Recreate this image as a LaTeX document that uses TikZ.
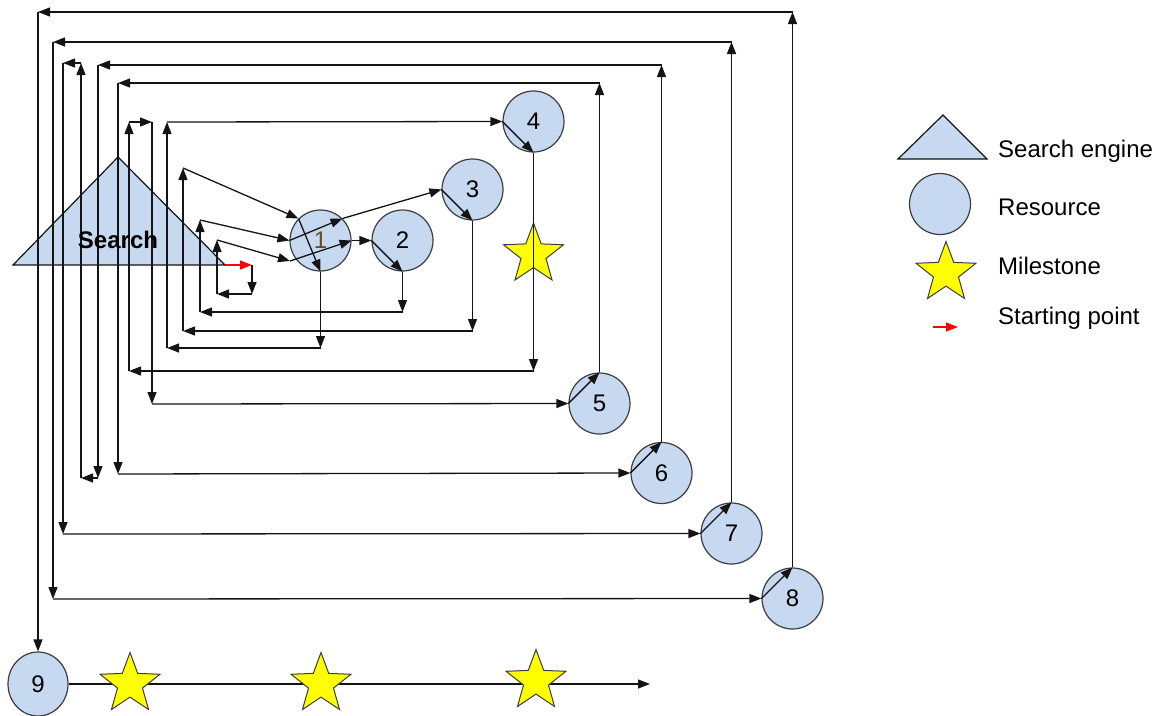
\documentclass[tikz,border=0pt]{standalone}
\usepackage{fontspec}
\setmainfont{Liberation Sans}
\usetikzlibrary{arrows.meta,shapes.geometric}
\definecolor{resblue}{RGB}{198,217,240}
\definecolor{starfill}{RGB}{255,255,0}
\definecolor{edgecol}{RGB}{20,20,20}
\definecolor{rimcol}{RGB}{60,60,60}
\definecolor{onecol}{RGB}{110,75,25}
\tikzset{
  edge/.style={draw=edgecol, line width=1.3pt, -{Triangle[length=12pt,width=9pt]}},
  startedge/.style={edge, draw=red},
  res/.style={circle, draw=rimcol, fill=resblue, line width=1.2pt, minimum size=61pt,
    inner sep=0pt, font=\fontsize{24}{28}\selectfont},
  mstone/.style={star, star points=5, star point ratio=2.4, draw=rimcol, fill=starfill,
    line width=1pt, minimum size=63pt, inner sep=0pt},
  legtext/.style={anchor=base west, inner sep=0pt, font=\fontsize{24}{28}\selectfont},
}
\begin{document}
\begin{tikzpicture}[x=1pt,y=-1pt]
\useasboundingbox (0,0) rectangle (1161,715);

% search engine
\coordinate (seL) at (13,265);
\coordinate (seTop) at (118,157);
\coordinate (seR) at (225,265);
\draw[draw=edgecol, fill=resblue, line width=1.2pt] (seL) -- (seTop) -- (seR) -- cycle;

% resources
\node[res] (c1) at (320.5,240.5) {\color{onecol}1};
\node[res] (c2) at (402.5,240.5) {2};
\node[res] (c3) at (472.5,189.5) {3};
\node[res] (c4) at (533.5,121.5) {4};
\node[res] (c5) at (599.5,403.5) {5};
\node[res] (c6) at (661.5,473)   {6};
\node[res] (c7) at (731.5,533.5) {7};
\node[res] (c8) at (792.5,598.5) {8};
\node[res, ellipse, minimum width=60pt, minimum height=64pt] (c9) at (38,684) {9};

% milestone on the fourth branch
\node[mstone] (m1) at (533.5,254.5) {};

% waypoints
\coordinate (p01) at (252,265);
\coordinate (p02) at (252,294);
\coordinate (p03) at (217,294);
\coordinate (p04) at (217,240);
\coordinate (c1in) at (290,261);
\coordinate (p05) at (402.5,312);
\coordinate (p06) at (200,312);
\coordinate (p07) at (200,220);
\coordinate (p08) at (472.5,331);
\coordinate (p09) at (183,331);
\coordinate (p10) at (183,168);
\coordinate (p11) at (320.5,348);
\coordinate (p12) at (167,348);
\coordinate (p13) at (167,122);
\coordinate (p14) at (533.5,371);
\coordinate (p15) at (129,371);
\coordinate (p16) at (129,122);
\coordinate (p17) at (152,122);
\coordinate (p18) at (152,404);
\coordinate (p19) at (599.5,83);
\coordinate (p20) at (118,83);
\coordinate (p21) at (118,474);
\coordinate (p22) at (661.5,65);
\coordinate (p23) at (98,65);
\coordinate (p24) at (98,478);
\coordinate (p25) at (81,478);
\coordinate (p26) at (81,63);
\coordinate (p27) at (63,63);
\coordinate (p28) at (63,534);
\coordinate (p29) at (731.5,42);
\coordinate (p30) at (53,42);
\coordinate (p31) at (53,599);
\coordinate (p32) at (792.5,12);
\coordinate (p33) at (38,12);
\coordinate (p34) at (650,684);

% first round
\draw[startedge] (seR) -- (p01);
\draw[edge] (p01) -- (p02);
\draw[edge] (p02) -- (p03);
\draw[edge] (p03) -- (p04);
\draw[edge] (p04) -- (c1in);
\draw[edge] (c1in) -- (c1.east);
\draw[edge] (c1.east) -- (c2.west);
\draw[edge] (c2.west) -- (c2.south);
\draw[edge] (c2.south) -- (p05);
\draw[edge] (p05) -- (p06);
% second round
\draw[edge] (p06) -- (p07);
\draw[edge] (p07) -- (c1.west);
\draw[edge] (c1.west) -- (c1.45);
\draw[edge] (c1.45) -- (c3.west);
\draw[edge] (c3.west) -- (c3.south);
\draw[edge] (c3.south) -- (p08);
\draw[edge] (p08) -- (p09);
% third round
\draw[edge] (p09) -- (p10);
\draw[edge] (p10) -- (c1.135);
\draw[edge] (c1.135) -- (c1.south);
\draw[edge] (c1.south) -- (p11);
\draw[edge] (p11) -- (p12);
% fourth round
\draw[edge] (p12) -- (p13);
\draw[edge] (p13) -- (c4.west);
\draw[edge] (c4.west) -- (c4.south);
\draw[edge] (c4.south) -- (p14);
\draw[edge] (p14) -- (p15);
% fifth round
\draw[edge] (p15) -- (p16);
\draw[edge] (p16) -- (p17);
\draw[edge] (p17) -- (p18);
\draw[edge] (p18) -- (c5.west);
\draw[edge] (c5.west) -- (c5.north);
\draw[edge] (c5.north) -- (p19);
\draw[edge] (p19) -- (p20);
% sixth round
\draw[edge] (p20) -- (p21);
\draw[edge] (p21) -- (c6.west);
\draw[edge] (c6.west) -- (c6.north);
\draw[edge] (c6.north) -- (p22);
\draw[edge] (p22) -- (p23);
% seventh round
\draw[edge] (p23) -- (p24);
\draw[edge] (p24) -- (p25);
\draw[edge] (p25) -- (p26);
\draw[edge] (p26) -- (p27);
\draw[edge] (p27) -- (p28);
\draw[edge] (p28) -- (c7.west);
\draw[edge] (c7.west) -- (c7.north);
\draw[edge] (c7.north) -- (p29);
\draw[edge] (p29) -- (p30);
% eighth round
\draw[edge] (p30) -- (p31);
\draw[edge] (p31) -- (c8.west);
\draw[edge] (c8.west) -- (c8.north);
\draw[edge] (c8.north) -- (p32);
\draw[edge] (p32) -- (p33);
% final run
\draw[edge] (p33) -- (c9.north);
\draw[edge] (c9.east) -- (p34);
\node[mstone] (m2) at (130,684) {};
\node[mstone] (m3) at (321,684) {};
\node[mstone] (m4) at (536,681) {};

\node[font=\bfseries\fontsize{24}{28}\selectfont, inner sep=0pt] (search) at (118,240) {Search};

% legend
\draw[draw=edgecol, fill=resblue, line width=1.2pt] (898,159) -- (943,115) -- (987,159) -- cycle;
\node[res] (lgres) at (940,204) {};
\node[mstone] (lgstar) at (946,273) {};
\coordinate (lgs0) at (933,327);
\coordinate (lgs1) at (958,327);
\draw[startedge] (lgs0) -- (lgs1);
\node[legtext] (t1) at (998,157.5) {Search engine};
\node[legtext] (t2) at (998,215) {Resource};
\node[legtext] (t3) at (998,274) {Milestone};
\node[legtext] (t4) at (998,324) {Starting point};
\end{tikzpicture}
\end{document}
